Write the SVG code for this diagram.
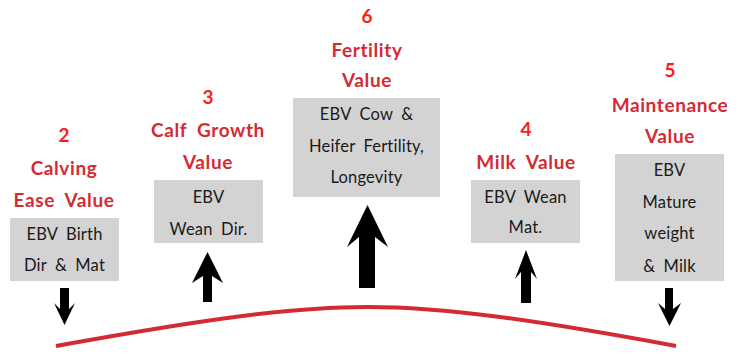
<svg xmlns="http://www.w3.org/2000/svg" width="744" height="354" viewBox="0 0 744 354">
<style>
.num{font-family:Lato,"Liberation Sans",sans-serif;font-weight:bold;font-size:19px;fill:#ff1a1a;text-anchor:middle}
.ttl{font-family:Lato,"Liberation Sans",sans-serif;font-weight:bold;font-size:19px;fill:#d42a34;text-anchor:middle;word-spacing:5px;letter-spacing:0.6px}
.box{fill:#d3d3d3}
.bt{font-family:Lato,"Liberation Sans",sans-serif;font-size:16.5px;fill:#1a1a1a;text-anchor:middle;word-spacing:4px;letter-spacing:0.2px}
.arr{fill:#000}
</style>
<g id="connectors">
<path d="M56,346 C200,320 290,307 367,307 C445,307 535,320 676,346" fill="none" stroke="#d42a34" stroke-width="4"/>
<polygon class="arr" points="64.5,325 75,303 69,309 69,288 60,288 60,309 54,303"/>
<polygon class="arr" points="207.5,252 223,283 212,276 212,302 203,302 203,276 192,283"/>
<polygon class="arr" points="367.5,205 388,247 375,237 375,288 359,288 359,237 347,247"/>
<polygon class="arr" points="526,250 537,279 531,272 531,303 521,303 521,272 515,279"/>
<polygon class="arr" points="669.5,326 681,303 673,309 673,288 665,288 665,309 658,303"/>
</g>
<g id="node2">
<text class="num" x="64" y="142">2</text>
<text class="ttl" x="64" y="175">Calving</text>
<text class="ttl" x="64" y="207">Ease Value</text>
<rect class="box" x="10" y="218" width="109" height="63"/>
<text class="bt" x="64.5" y="240">EBV Birth</text>
<text class="bt" x="64.5" y="271">Dir &amp; Mat</text>
</g>
<g id="node3">
<text class="num" x="208" y="104">3</text>
<text class="ttl" x="208" y="137">Calf Growth</text>
<text class="ttl" x="208" y="169">Value</text>
<rect class="box" x="154" y="180" width="109" height="63"/>
<text class="bt" x="208.5" y="203">EBV</text>
<text class="bt" x="208.5" y="235">Wean Dir.</text>
</g>
<g id="node6">
<text class="num" x="367" y="23">6</text>
<text class="ttl" x="367" y="57">Fertility</text>
<text class="ttl" x="367" y="87">Value</text>
<rect class="box" x="293" y="98" width="147" height="99"/>
<text class="bt" x="366.5" y="120">EBV Cow &amp;</text>
<text class="bt" x="366.5" y="152">Heifer Fertility,</text>
<text class="bt" x="366.5" y="183">Longevity</text>
</g>
<g id="node4">
<text class="num" x="526" y="136">4</text>
<text class="ttl" x="526" y="169">Milk Value</text>
<rect class="box" x="471" y="180" width="109" height="63"/>
<text class="bt" x="525.5" y="203">EBV Wean</text>
<text class="bt" x="525.5" y="233">Mat.</text>
</g>
<g id="node5">
<text class="num" x="670" y="77">5</text>
<text class="ttl" x="670" y="112">Maintenance</text>
<text class="ttl" x="670" y="143">Value</text>
<rect class="box" x="615" y="154" width="109" height="127"/>
<text class="bt" x="669.5" y="176">EBV</text>
<text class="bt" x="669.5" y="208">Mature</text>
<text class="bt" x="669.5" y="239">weight</text>
<text class="bt" x="669.5" y="272">&amp; Milk</text>
</g>
</svg>
